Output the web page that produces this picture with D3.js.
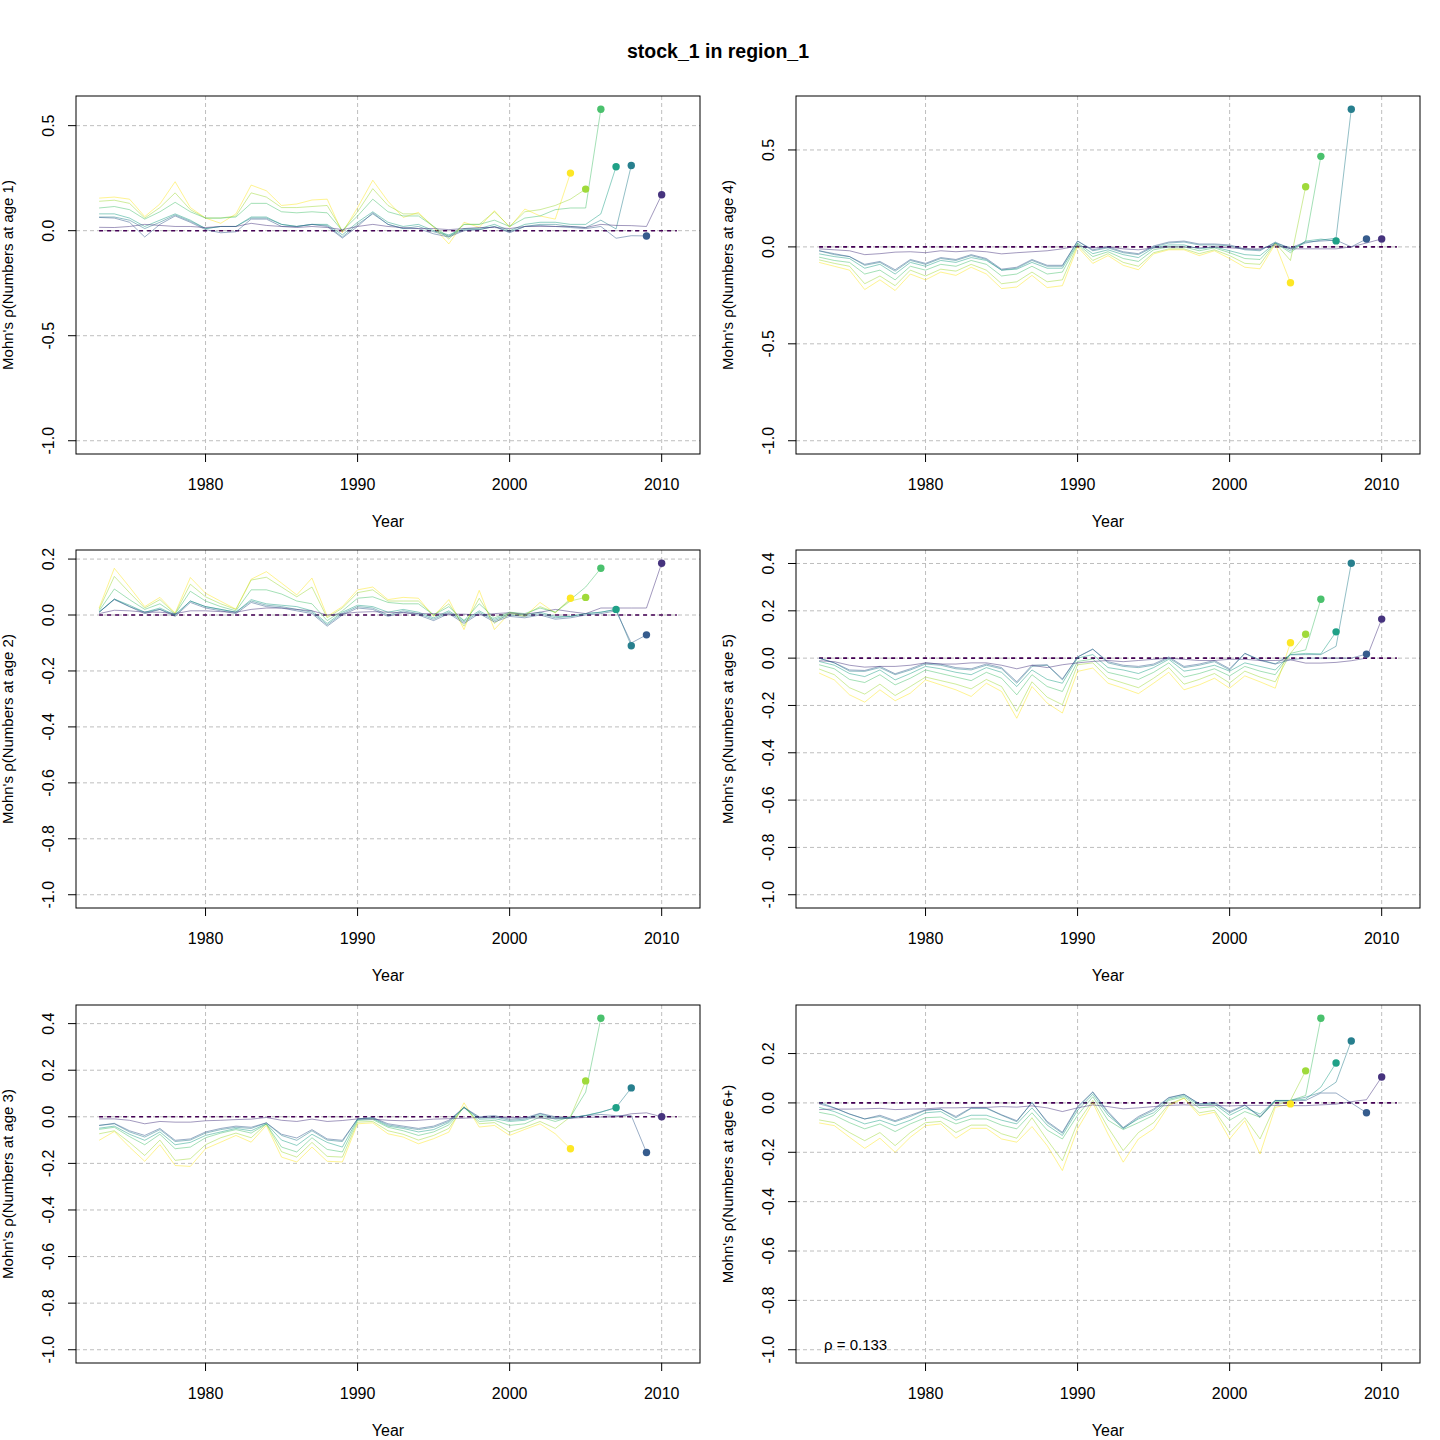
<!DOCTYPE html>
<html><head><meta charset="utf-8">
<script src="https://cdn.jsdelivr.net/npm/d3@7"></script>
<style>body{margin:0;background:#fff}svg{display:block;font-family:"Liberation Sans",Arial,sans-serif}</style>
</head><body>
<svg id="chart" width="1440" height="1440"></svg>
<script>
const titleText = "stock_1 in region_1";
const startYear = 1973;
const refEndYear = 2011;
const peelEndYears = [2004, 2005, 2006, 2007, 2008, 2009, 2010];
const peelColors = ["#FDE725", "#9FDA3A", "#4AC16D", "#1FA187", "#277F8E", "#365C8D", "#46337E"];
const refColor = "#440154";
const xTicks = [1980, 1990, 2000, 2010];
const rhoText = "\u03C1 = 0.133";

// each panel: one array per peel (ending 2004..2010), values from 1973 on
const age1 = [
 [.155,.16,.15,.067,.127,.233,.11,.06,.035,.08, .217,.19,.12,.127,.146,.15,-.01,.11,.24,.14, .063,.087,.016,-.063,.04,.016,.095,.016,.103,.07, .055,.274],
 [.14,.145,.13,.06,.11,.18,.1,.06,.06,.07, .18,.16,.11,.11,.115,.12,0,.09,.2,.12, .08,.08,.02,-.04,.03,.03,.09,.02,.09,.1, .12,.15,.198],
 [.108,.115,.1,.055,.09,.135,.09,.06,.06,.065, .13,.13,.09,.085,.09,.085,0,.07,.15,.09, .07,.07,.02,-.03,.03,.03,.05,.02,.06,.07, .1,.108,.108,.578],
 [.08,.08,.06,.02,.05,.08,.05,.01,.02,.02, .065,.065,.03,.02,.03,.03,-.02,.04,.09,.04, .02,.03,0,-.02,.01,.01,.03,0,.03,.04, .04,.03,.03,.08,.304],
 [.065,.065,.05,.01,.04,.075,.045,.01,.02,.02, .06,.06,.03,.02,.03,.025,-.03,.03,.08,.03, .01,.02,-.005,-.025,.005,.005,.02,-.005,.02,.03, .03,.02,.015,.05,.008,.31],
 [.063,.06,.04,-.03,.03,.07,.04,.005,-.01,-.005, .055,.055,.02,.02,.03,.02,-.035,.02,.085,.03, .01,.01,-.015,-.03,0,.005,.02,-.01,.02,.025, .02,.015,.01,.02,-.036,-.024,-.025],
 [.016,.015,.02,.03,.025,.02,.02,.015,.02,.02, .035,.025,.02,.015,.02,.015,.005,.02,.03,.02, .015,.01,.01,.005,.01,.015,.015,.01,.02,.02, .02,.02,.015,.03,.025,.024,.02,.171]
];
const age2 = [
 [.025,.167,.1,.03,.063,.007,.134,.078,.049,.021, .128,.155,.114,.072,.132,-.005,.03,.09,.1,.055, .063,.06,-.005,.055,-.052,.088,-.052,.007,-.005,.045, .007,.06],
 [.02,.138,.08,.025,.055,.005,.11,.065,.04,.02, .125,.135,.1,.065,.1,-.01,.025,.08,.09,.05, .05,.05,0,.04,-.04,.06,-.03,.01,0,.03, .01,.05,.063],
 [.015,.093,.055,.02,.04,.003,.085,.05,.03,.015, .09,.09,.075,.05,.04,-.02,.015,.06,.065,.045, .04,.04,0,.03,-.02,.04,-.01,.01,.005,.025, .01,.055,.1,.167],
 [.01,.057,.035,.01,.025,0,.05,.03,.02,.01, .055,.04,.035,.03,.015,-.03,.01,.035,.03,.01, .02,.01,-.01,.015,-.02,.015,-.015,.005,0,.01, -.005,-.005,.005,.01,.02],
 [.01,.057,.03,.01,.02,0,.05,.03,.02,.01, .05,.035,.03,.02,.01,-.035,.005,.03,.025,0, .015,.005,-.015,.01,-.025,.01,-.02,0,-.005,.005, -.01,-.005,.005,.01,.02,-.11],
 [.01,.055,.03,.005,.02,-.005,.045,.025,.015,.005, .045,.03,.025,.015,.005,-.04,0,.025,.02,-.005, .01,0,-.02,.005,-.03,.005,-.025,-.005,-.01,0, -.015,-.01,0,.005,.015,-.1,-.071],
 [.005,.017,.015,.01,.01,.005,.015,.015,.012,.01, .02,.025,.025,.02,.015,0,.005,.01,.012,.01, .008,.005,.005,.003,.003,0,.005,.008,.003,.01, .02,.012,.005,.025,.025,.025,.025,.185]
];
const age3 = [
 [-.101,-.063,-.13,-.191,-.12,-.209,-.213,-.137,-.109,-.08, -.109,-.037,-.173,-.194,-.13,-.191,-.194,-.03,-.026,-.073, -.087,-.116,-.094,-.066,.06,-.044,-.037,-.08,-.054,-.03, -.073,-.137],
 [-.073,-.06,-.11,-.166,-.1,-.187,-.18,-.12,-.09,-.07, -.09,-.031,-.15,-.173,-.11,-.17,-.173,-.023,-.02,-.06, -.075,-.1,-.08,-.05,.045,-.03,-.025,-.066,-.045,-.02, -.05,0,.154],
 [-.054,-.045,-.085,-.12,-.075,-.137,-.13,-.09,-.07,-.055, -.07,-.031,-.13,-.151,-.09,-.14,-.151,-.016,-.012,-.045, -.06,-.08,-.065,-.035,.04,-.02,-.015,-.037,-.03,-.001, -.02,0,.106,.423],
 [-.049,-.04,-.075,-.101,-.065,-.12,-.11,-.08,-.065,-.05, -.06,-.03,-.1,-.123,-.075,-.11,-.13,-.011,-.008,-.04, -.05,-.065,-.055,-.025,.04,-.01,-.008,-.02,-.015,.007, -.01,-.006,.006,.02,.039],
 [-.037,-.03,-.065,-.087,-.055,-.106,-.1,-.07,-.055,-.045, -.05,-.026,-.08,-.101,-.06,-.1,-.106,-.009,-.005,-.035, -.045,-.055,-.045,-.02,.04,-.005,0,-.015,-.01,.013, -.005,-.003,.005,.02,.04,.124],
 [-.037,-.028,-.06,-.08,-.05,-.101,-.095,-.065,-.05,-.04, -.045,-.026,-.075,-.091,-.055,-.095,-.101,-.009,-.003,-.03, -.04,-.05,-.04,-.015,.04,0,.005,-.01,-.005,.015, 0,-.005,.005,.01,.005,.005,-.153],
 [-.009,-.009,-.015,-.03,-.02,-.023,-.023,-.017,-.015,-.012, -.01,-.003,-.015,-.02,-.01,-.02,-.016,-.009,-.01,-.015, -.017,-.015,-.01,-.008,-.006,-.003,-.002,-.003,-.003,-.006, -.006,-.006,-.003,-.001,0,.013,.017,0]
];
const age4 = [
 [-.08,-.10,-.12,-.22,-.17,-.225,-.14,-.17,-.13,-.147, -.105,-.14,-.215,-.207,-.147,-.21,-.2,0,-.085,-.045, -.095,-.118,-.036,-.015,-.015,-.045,-.02,-.06,-.105,-.113, .015,-.185],
 [-.067,-.085,-.1,-.19,-.15,-.2,-.12,-.15,-.115,-.125, -.09,-.12,-.19,-.18,-.13,-.18,-.17,.01,-.07,-.035, -.08,-.1,-.03,-.01,-.01,-.035,-.015,-.045,-.085,-.09, .02,-.07,.31],
 [-.053,-.07,-.08,-.14,-.12,-.17,-.1,-.12,-.09,-.1, -.07,-.09,-.15,-.14,-.1,-.14,-.13,.015,-.05,-.025, -.06,-.075,-.015,0,0,-.02,-.005,-.03,-.06,-.065, .02,-.03,.03,.467],
 [-.036,-.05,-.06,-.11,-.09,-.14,-.08,-.1,-.07,-.08, -.055,-.07,-.12,-.115,-.08,-.11,-.11,.02,-.035,-.015, -.04,-.055,-.005,.01,.01,-.01,0,-.02,-.04,-.045, .02,-.02,.03,.04,.031],
 [-.02,-.04,-.05,-.095,-.08,-.125,-.07,-.09,-.06,-.07, -.045,-.065,-.12,-.11,-.07,-.1,-.1,.03,-.02,-.005, -.03,-.04,0,.02,.025,.01,.01,.005,-.015,-.02, .025,-.01,.02,.035,.045,.71],
 [-.02,-.035,-.05,-.09,-.075,-.118,-.065,-.085,-.055,-.065, -.04,-.06,-.115,-.105,-.065,-.095,-.095,.03,-.015,0, -.025,-.035,.005,.025,.03,.015,.015,.01,-.01,-.015, .02,-.005,.025,.03,.035,0,.041],
 [-.01,-.015,-.02,-.04,-.035,-.027,-.025,-.03,-.02,-.025, -.02,-.025,-.036,-.03,-.025,-.02,-.01,.005,-.005,0, -.01,-.015,-.005,0,0,-.005,0,-.005,-.01,-.01, .01,-.01,-.01,-.01,-.01,0,.02,.041]
];
const age5 = [
 [-.063,-.092,-.155,-.186,-.134,-.18,-.148,-.092,-.113,-.134, -.162,-.106,-.141,-.254,-.12,-.19,-.232,-.056,-.042,-.106, -.127,-.15,-.106,-.06,-.134,-.113,-.085,-.127,-.075,-.1, -.127,.065],
 [-.046,-.07,-.125,-.152,-.11,-.158,-.12,-.08,-.095,-.11, -.13,-.09,-.12,-.225,-.1,-.165,-.197,-.028,-.02,-.085, -.105,-.125,-.085,-.04,-.11,-.09,-.065,-.105,-.055,-.08, -.1,.02,.101],
 [-.028,-.045,-.09,-.103,-.07,-.113,-.085,-.05,-.065,-.08, -.095,-.06,-.085,-.155,-.07,-.12,-.141,-.014,-.004,-.06, -.075,-.09,-.06,-.02,-.08,-.065,-.045,-.075,-.035,-.055, -.07,.02,.035,.249],
 [-.014,-.03,-.065,-.078,-.05,-.092,-.065,-.035,-.045,-.06, -.07,-.04,-.06,-.12,-.05,-.09,-.106,0,.015,-.04, -.05,-.065,-.04,-.005,-.055,-.045,-.03,-.055,-.02,-.035, -.05,.015,.02,.018,.111],
 [0,-.02,-.055,-.056,-.04,-.07,-.05,-.025,-.03,-.045, -.05,-.03,-.045,-.106,-.035,-.03,-.092,.005,.038,-.02, -.035,-.04,-.03,0,-.04,-.03,-.015,-.05,.02,-.007, -.024,.014,.015,.015,.05,.401],
 [0,-.02,-.05,-.052,-.035,-.066,-.045,-.02,-.025,-.04, -.045,-.025,-.04,-.1,-.03,-.028,-.088,.005,.038,-.015, -.03,-.035,-.025,.005,-.035,-.025,-.01,-.045,.02,-.01, -.025,-.007,0,0,0,0,.017],
 [-.011,-.015,-.03,-.038,-.035,-.035,-.03,-.02,-.025,-.025, -.02,-.02,-.03,-.045,-.03,-.04,-.028,-.02,-.014,-.01, -.015,-.01,-.005,0,-.005,-.01,-.01,-.005,-.005,-.01, -.01,-.007,-.021,-.021,-.018,-.011,0,.165]
];
const age6 = [
 [-.081,-.092,-.139,-.184,-.143,-.2,-.139,-.092,-.085,-.143, -.103,-.103,-.146,-.159,-.096,-.173,-.274,-.105,0,-.126, -.24,-.146,-.105,-.011,.019,-.051,-.038,-.146,-.072,-.207, -.018,-.004],
 [-.069,-.08,-.12,-.153,-.12,-.173,-.12,-.08,-.075,-.12, -.09,-.09,-.125,-.143,-.06,-.15,-.234,-.08,.01,-.1, -.193,-.12,-.08,-.005,.02,-.04,-.03,-.12,-.06,-.146, -.01,.01,.13],
 [-.038,-.05,-.08,-.105,-.085,-.116,-.085,-.06,-.057,-.085, -.065,-.065,-.09,-.105,-.04,-.11,-.146,-.05,.025,-.07, -.108,-.08,-.05,.01,.025,-.02,-.015,-.07,-.035,-.058, .005,.01,.03,.343],
 [-.018,-.035,-.06,-.085,-.07,-.092,-.07,-.04,-.035,-.07, -.05,-.05,-.07,-.085,-.02,-.09,-.132,-.03,.035,-.05, -.102,-.065,-.04,.015,.03,-.01,-.005,-.05,-.02,-.045, .01,.01,.015,.064,.162],
 [.003,-.02,-.045,-.065,-.055,-.076,-.055,-.03,-.025,-.06, -.022,-.022,-.05,-.076,.003,-.08,-.123,-.02,.043,-.04, -.105,-.06,-.03,.02,.035,-.005,0,-.04,-.01,-.058, .01,.01,.023,.043,.084,.251],
 [-.004,-.02,-.045,-.065,-.05,-.072,-.05,-.028,-.025,-.055, -.02,-.02,-.048,-.072,0,-.075,-.119,-.015,.045,-.035, -.1,-.055,-.025,.022,.035,-.003,.002,-.035,-.008,-.055, .01,.008,.01,.04,.04,0,-.04],
 [-.027,-.025,-.025,-.024,-.022,-.027,-.025,-.024,-.02,-.02, -.018,-.018,-.015,-.017,-.012,-.02,-.035,-.02,-.008,-.015, -.024,-.02,-.015,-.01,-.008,-.01,-.01,-.012,-.01,-.01, -.01,-.011,-.011,-.008,-.005,.005,.013,.105]
];

const ticksHalf = [-1, -0.5, 0, 0.5];
const ticksTo02 = [-1, -0.8, -0.6, -0.4, -0.2, 0, 0.2];
const ticksTo04 = [-1, -0.8, -0.6, -0.4, -0.2, 0, 0.2, 0.4];

const panels = [
  {label: "Numbers at age 1", data: age1, col: 0, row: 0, yTicks: ticksHalf},
  {label: "Numbers at age 2", data: age2, col: 0, row: 1, yTicks: ticksTo02},
  {label: "Numbers at age 3", data: age3, col: 0, row: 2, yTicks: ticksTo04},
  {label: "Numbers at age 4", data: age4, col: 1, row: 0, yTicks: ticksHalf},
  {label: "Numbers at age 5", data: age5, col: 1, row: 1, yTicks: ticksTo04},
  {label: "Numbers at age 6+", data: age6, col: 1, row: 2, yTicks: ticksTo02, rho: rhoText}
];

const svg = d3.select("#chart");
svg.append("rect").attr("width", 1440).attr("height", 1440).attr("fill", "#fff");
svg.append("text").attr("x", 718).attr("y", 58).attr("text-anchor", "middle")
  .attr("font-size", 19.5).attr("font-weight", "bold").text(titleText);

const colX = [76, 796], rowY = [96, 550, 1005];
const W = 624, H = 358;
const fmt = v => v.toFixed(1);

panels.forEach(p => {
  const L = colX[p.col], T = rowY[p.row], R = L + W, B = T + H;
  const g = svg.append("g");
  const xPad = 0.04 * (refEndYear - startYear);
  const x = d3.scaleLinear().domain([startYear - xPad, refEndYear + xPad]).range([L, R]);
  const ymax = d3.max(p.data.flat());
  const ymin = -1;
  const yPad = 0.04 * (ymax - ymin);
  const y = d3.scaleLinear().domain([ymin - yPad, ymax + yPad]).range([B, T]);

  // grid
  g.selectAll(".gx").data(xTicks).join("line")
    .attr("x1", d => x(d)).attr("x2", d => x(d)).attr("y1", T).attr("y2", B)
    .attr("stroke", "#BEBEBE").attr("stroke-dasharray", "4,3").attr("stroke-width", 1);
  g.selectAll(".gy").data(p.yTicks).join("line")
    .attr("x1", L).attr("x2", R).attr("y1", d => y(d)).attr("y2", d => y(d))
    .attr("stroke", "#BEBEBE").attr("stroke-dasharray", "4,3").attr("stroke-width", 1);

  // reference line
  g.append("line").attr("x1", x(startYear)).attr("x2", x(refEndYear))
    .attr("y1", y(0)).attr("y2", y(0))
    .attr("stroke", refColor).attr("stroke-width", 1.6).attr("stroke-dasharray", "4,4");

  const line = d3.line().x((d, i) => x(startYear + i)).y(d => y(d));
  p.data.forEach((s, k) => {
    g.append("path").attr("d", line(s)).attr("fill", "none")
      .attr("stroke", peelColors[k]).attr("stroke-opacity", 0.5).attr("stroke-width", 1);
  });
  p.data.forEach((s, k) => {
    g.append("circle").attr("cx", x(startYear + s.length - 1)).attr("cy", y(s[s.length - 1]))
      .attr("r", 3.7).attr("fill", peelColors[k]);
  });

  // box
  g.append("rect").attr("x", L).attr("y", T).attr("width", W).attr("height", H)
    .attr("fill", "none").attr("stroke", "#000").attr("stroke-width", 1);

  // x axis ticks
  g.selectAll(".tx").data(xTicks).join("line")
    .attr("x1", d => x(d)).attr("x2", d => x(d)).attr("y1", B).attr("y2", B + 8)
    .attr("stroke", "#000");
  g.selectAll(".lx").data(xTicks).join("text")
    .attr("x", d => x(d)).attr("y", B + 36).attr("text-anchor", "middle")
    .attr("font-size", 16).text(d => d);
  g.append("text").attr("x", (L + R) / 2).attr("y", B + 73).attr("text-anchor", "middle")
    .attr("font-size", 16).text("Year");

  // y axis ticks
  g.selectAll(".ty").data(p.yTicks).join("line")
    .attr("x1", L - 8).attr("x2", L).attr("y1", d => y(d)).attr("y2", d => y(d))
    .attr("stroke", "#000");
  g.selectAll(".ly").data(p.yTicks).join("text")
    .attr("transform", d => `translate(${L - 22},${y(d)}) rotate(-90)`)
    .attr("text-anchor", "middle").attr("font-size", 16).text(d => fmt(d));
  g.append("text")
    .attr("transform", `translate(${L - 63},${(T + B) / 2}) rotate(-90)`)
    .attr("text-anchor", "middle").attr("font-size", 15)
    .text("Mohn's \u03C1(" + p.label + ")");

  if (p.rho) {
    g.append("text").attr("x", L + 28).attr("y", B - 13).attr("font-size", 15).text(p.rho);
  }
});
</script>
</body></html>
